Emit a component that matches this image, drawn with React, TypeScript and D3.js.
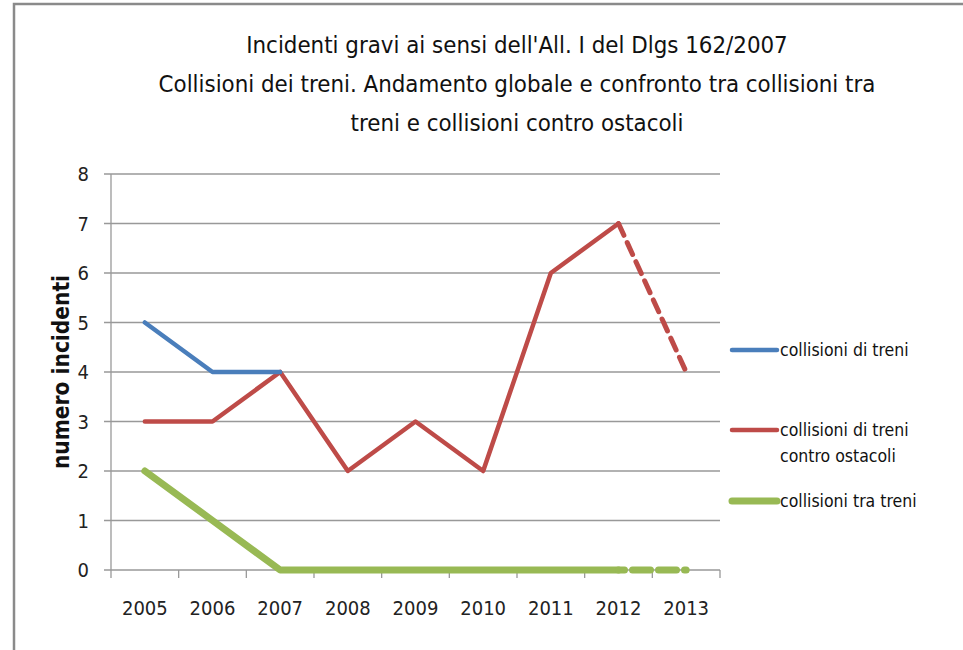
import React from "react";
import * as d3 from "d3";

const years = ["2005", "2006", "2007", "2008", "2009", "2010", "2011", "2012", "2013"];
const collisioniDiTreni = [5, 4, 4];
const controOstacoli = [3, 3, 4, 2, 3, 2, 6, 7, 4];
const traTreni = [2, 1, 0, 0, 0, 0, 0, 0, 0];
const yTicks = [0, 1, 2, 3, 4, 5, 6, 7, 8];
const titleLines = [
  "Incidenti gravi ai sensi dell'All. I del Dlgs 162/2007",
  "Collisioni dei treni. Andamento globale e confronto  tra collisioni tra",
  "treni e collisioni contro ostacoli",
];
const legendItems = [
  { label: ["collisioni di treni"], color: "#4a7ebb" },
  { label: ["collisioni di treni", "contro ostacoli"], color: "#be4b48" },
  { label: ["collisioni tra treni"], color: "#98b954" },
];

const FONT = "'Liberation Sans Narrow', 'DejaVu Sans Condensed', 'Open Sans', sans-serif";

export default function App() {
  const W = 963, H = 650;
  const left = 111, right = 720, top = 174, bottom = 570;
  const x = d3.scaleBand().domain(years).range([left, right]).padding(0);
  const y = d3.scaleLinear().domain([0, 8]).range([bottom, top]);
  const cx = (i: number) => (x(years[i]) as number) + x.bandwidth() / 2;

  const line = d3.line<[number, number]>().x(d => d[0]).y(d => d[1]);
  const pts = (arr: number[], from: number, to: number) =>
    arr.slice(from, to + 1).map((v, k) => [cx(from + k), y(v)] as [number, number]);

  const n = years.length;
  const colors = { blue: "#4a7ebb", red: "#be4b48", green: "#98b954" };

  return (
    <svg width={W} height={H} style={{ position: "absolute", left: 0, top: 0, background: "#fff" }}>
      <rect x={14} y={4} width={1000} height={700} fill="#fff" stroke="#8a8a8a" strokeWidth={2.5} />
      {titleLines.map((t, i) => (
        <text key={i} x={517} y={53 + i * 39} textAnchor="middle" fontFamily={FONT} fontSize={23.8} fill="#111">
          {t}
        </text>
      ))}
      {/* gridlines */}
      {yTicks.map(t => (
        <g key={t}>
          <line x1={104} x2={right} y1={y(t)} y2={y(t)} stroke="#999" strokeWidth={1.3} />
          <text x={89} y={y(t) + 7} textAnchor="end" fontFamily={FONT} fontSize={20} fill="#222">
            {t}
          </text>
        </g>
      ))}
      <line x1={left} x2={left} y1={top} y2={bottom + 8} stroke="#999" strokeWidth={1.3} />
      {years.map((yr, i) => (
        <g key={yr}>
          <line x1={(x(yr) as number) + x.bandwidth()} x2={(x(yr) as number) + x.bandwidth()} y1={bottom} y2={bottom + 8} stroke="#999" strokeWidth={1.3} />
          <text x={cx(i)} y={615} textAnchor="middle" fontFamily={FONT} fontSize={20} fill="#222">
            {yr}
          </text>
        </g>
      ))}
      <text
        transform={`translate(69, ${(top + bottom) / 2}) rotate(-90)`}
        textAnchor="middle"
        fontFamily={FONT}
        fontWeight="bold"
        fontSize={22.5}
        fill="#111"
      >
        numero incidenti
      </text>
      {/* series */}
      <path d={line(pts(traTreni, 0, n - 2)) || ""} fill="none" stroke={colors.green} strokeWidth={7} strokeLinejoin="round" strokeLinecap="round" />
      <path d={line(pts(traTreni, n - 2, n - 1)) || ""} fill="none" stroke={colors.green} strokeWidth={7} strokeDasharray="18 8" strokeDashoffset={-14} strokeLinecap="round" />
      <path d={line(pts(controOstacoli, 0, n - 2)) || ""} fill="none" stroke={colors.red} strokeWidth={4.5} strokeLinejoin="round" strokeLinecap="round" />
      <path d={line(pts(controOstacoli, n - 2, n - 1)) || ""} fill="none" stroke={colors.red} strokeWidth={5} strokeDasharray="13 8" strokeLinecap="round" />
      <path d={line(pts(collisioniDiTreni, 0, collisioniDiTreni.length - 1)) || ""} fill="none" stroke={colors.blue} strokeWidth={4.5} strokeLinejoin="round" strokeLinecap="round" />
      {/* legend */}
      {legendItems.map((it, i) => {
        const ly = [350, 430, 501][i];
        return (
          <g key={i}>
            <line x1={732} x2={777} y1={ly} y2={ly} stroke={it.color} strokeWidth={i === 2 ? 7 : 4.5} strokeLinecap="round" />
            {it.label.map((l, j) => (
              <text key={j} x={780} y={ly + 6 + j * 26} fontFamily={FONT} fontSize={17.5} fill="#111">
                {l}
              </text>
            ))}
          </g>
        );
      })}
    </svg>
  );
}
